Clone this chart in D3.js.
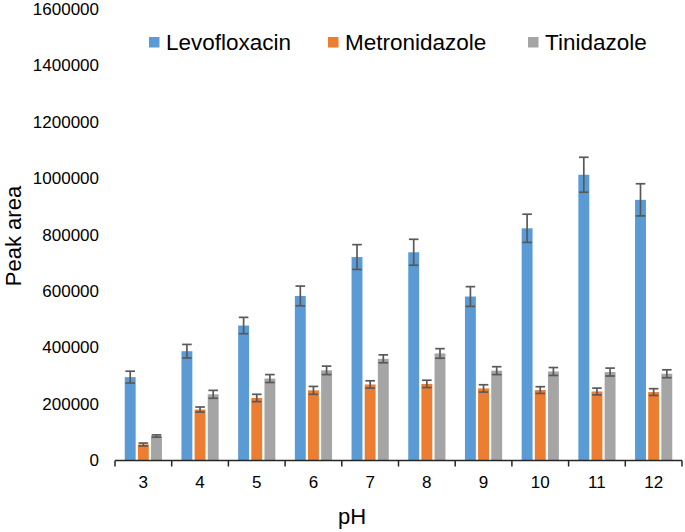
<!DOCTYPE html>
<html><head><meta charset="utf-8">
<script src="https://cdn.jsdelivr.net/npm/d3@7"></script>
<style>body{margin:0;background:#fff}svg{display:block;font-family:"Liberation Sans",Arial,sans-serif}</style>
</head><body>
<svg id="c" width="685" height="532"></svg>
<script>
const categories = ["3","4","5","6","7","8","9","10","11","12"];
const seriesNames = ["Levofloxacin","Metronidazole","Tinidazole"];
const levofloxacin = [294000,386000,477000,582000,720000,737000,580000,822000,1012000,923000];
const levofloxacinErr = [21000,24000,29000,35000,44000,46000,35000,50000,62000,57000];
const metronidazole = [55000,179000,220000,247000,268000,270000,254000,248000,243000,241000];
const metronidazoleErr = [5000,9000,13000,14000,13000,13000,13000,12000,12000,12000];
const tinidazole = [85000,233000,289000,318000,359000,378000,317000,314000,312000,306000];
const tinidazoleErr = [4000,14000,14000,15000,14000,17000,14000,14000,14000,14000];
const yTicks = [0,200000,400000,600000,800000,1000000,1200000,1400000,1600000];
const colors = ["#5B9BD5","#ED7D31","#A5A5A5"];

const values = [levofloxacin, metronidazole, tinidazole];
const errs = [levofloxacinErr, metronidazoleErr, tinidazoleErr];

const svg = d3.select("#c");
const x = d3.scaleBand().domain(categories).range([115, 682]).paddingInner(0).paddingOuter(0);
const y = d3.scaleLinear().domain([0,1600000]).range([460, 9]);
const inner = d3.scaleBand().domain(seriesNames).range([-18.6, 18.6]).paddingInner(0.17).paddingOuter(0);

// y tick labels
svg.append("g").selectAll("text").data(yTicks).join("text")
  .attr("x", 99).attr("y", d => y(d)).attr("dy", "0.36em")
  .attr("text-anchor", "end").attr("font-size", 17).attr("fill", "#000")
  .text(d => d);

// bars
seriesNames.forEach((s, si) => {
  const g = svg.append("g");
  g.selectAll("rect").data(categories).join("rect")
    .attr("x", (c) => x(c) + x.bandwidth()/2 + inner(s))
    .attr("y", (c, i) => y(values[si][i]))
    .attr("width", inner.bandwidth())
    .attr("height", (c, i) => y(0) - y(values[si][i]))
    .attr("fill", colors[si]);
});

// error bars
seriesNames.forEach((s, si) => {
  const g = svg.append("g").attr("stroke", "#595959").attr("stroke-width", 1.7).attr("fill", "none");
  categories.forEach((c, i) => {
    const cx = x(c) + x.bandwidth()/2 + inner(s) + inner.bandwidth()/2;
    const hi = y(values[si][i] + errs[si][i]);
    const lo = y(values[si][i] - errs[si][i]);
    g.append("line").attr("x1", cx).attr("x2", cx).attr("y1", hi).attr("y2", lo);
    g.append("line").attr("x1", cx-4.8).attr("x2", cx+4.8).attr("y1", hi).attr("y2", hi);
    g.append("line").attr("x1", cx-4.8).attr("x2", cx+4.8).attr("y1", lo).attr("y2", lo);
  });
});

// x axis
const xAxis = svg.append("g");
xAxis.append("line").attr("x1", 115).attr("x2", 682).attr("y1", 460.5).attr("y2", 460.5)
  .attr("stroke", "#262626").attr("stroke-width", 1.5);
const bounds = categories.map(c => x(c)).concat([x(categories[categories.length-1]) + x.bandwidth()]);
xAxis.selectAll("line.t").data(bounds).join("line").attr("class","t")
  .attr("x1", d => d).attr("x2", d => d).attr("y1", 460.5).attr("y2", 466.5)
  .attr("stroke", "#262626").attr("stroke-width", 1.5);
xAxis.selectAll("text").data(categories).join("text")
  .attr("x", d => x(d) + x.bandwidth()/2).attr("y", 488)
  .attr("text-anchor", "middle").attr("font-size", 17).attr("fill", "#000")
  .text(d => d);

// axis titles
svg.append("text").attr("x", 352).attr("y", 524).attr("text-anchor", "middle")
  .attr("font-size", 22).attr("fill", "#000").text("pH");
svg.append("text").attr("transform", "translate(21,236) rotate(-90)").attr("text-anchor", "middle")
  .attr("font-size", 22).attr("fill", "#000").text("Peak area");

// legend
const legX = [149, 328, 528];
const leg = svg.append("g");
seriesNames.forEach((s, i) => {
  leg.append("rect").attr("x", legX[i]).attr("y", 37).attr("width", 10.5).attr("height", 10.5).attr("fill", colors[i]);
  leg.append("text").attr("x", legX[i] + 17).attr("y", 50).attr("font-size", 22.5).attr("fill", "#000").text(s);
});
</script>
</body></html>
